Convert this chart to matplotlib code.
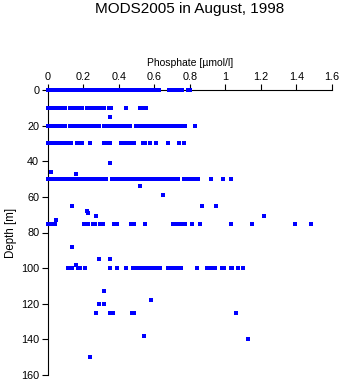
import numpy as np
import matplotlib
matplotlib.use('Agg')
import matplotlib.pyplot as plt

plt.rcParams['font.family'] = ['Liberation Sans', 'DejaVu Sans']

# Phosphate readings (umol/l) at each standard depth (m)
p0 = [0.00, 0.01, 0.02, 0.03, 0.04, 0.05, 0.06, 0.07, 0.08, 0.09, 0.10, 0.11, 0.12, 0.13,
      0.14, 0.15, 0.16, 0.17, 0.18, 0.19, 0.20, 0.21, 0.22, 0.23, 0.24, 0.25, 0.26, 0.27,
      0.28, 0.29, 0.30, 0.31, 0.32, 0.33, 0.34, 0.35, 0.36, 0.37, 0.38, 0.39, 0.40,
      0.415, 0.43, 0.445, 0.46, 0.47, 0.48, 0.49, 0.50, 0.51, 0.52, 0.53, 0.54,
      0.555, 0.57, 0.585, 0.595, 0.61, 0.625, 0.685, 0.70, 0.71, 0.725, 0.74, 0.755,
      0.79, 0.80]
p10 = [0.00, 0.01, 0.02, 0.03, 0.04, 0.05, 0.06, 0.075, 0.085, 0.10, 0.125, 0.135, 0.15,
       0.16, 0.185, 0.195, 0.22, 0.235, 0.245, 0.255, 0.265, 0.285, 0.30, 0.315, 0.345,
       0.355, 0.44, 0.52, 0.535, 0.555]
p15 = [0.35]
p20 = [0.00, 0.01, 0.02, 0.03, 0.04, 0.05, 0.06, 0.07, 0.08, 0.09, 0.10, 0.125, 0.135,
       0.145, 0.155, 0.165, 0.175, 0.185, 0.195, 0.205, 0.215, 0.225, 0.235, 0.245, 0.255,
       0.265, 0.275, 0.29, 0.315, 0.325, 0.335, 0.345, 0.355, 0.365, 0.375, 0.385, 0.395,
       0.405, 0.415, 0.425, 0.44, 0.455, 0.465, 0.495, 0.51, 0.525, 0.545, 0.56, 0.575,
       0.585, 0.60, 0.615, 0.635, 0.655, 0.675, 0.69, 0.70, 0.71, 0.735, 0.75, 0.765,
       0.775, 0.83]
p30 = [0.005, 0.015, 0.025, 0.035, 0.05, 0.07, 0.08, 0.105, 0.115, 0.13, 0.165, 0.185,
       0.195, 0.24, 0.315, 0.325, 0.345, 0.35, 0.415, 0.425, 0.44, 0.45, 0.465, 0.475,
       0.485, 0.535, 0.55, 0.575, 0.61, 0.68, 0.74, 0.77]
p50 = [0.00, 0.01, 0.02, 0.03, 0.04, 0.05, 0.06, 0.07, 0.08, 0.09, 0.10, 0.11, 0.12,
       0.13, 0.14, 0.15, 0.16, 0.17, 0.18, 0.19, 0.20, 0.21, 0.22, 0.23, 0.24, 0.25, 0.26,
       0.27, 0.285, 0.30, 0.315, 0.33, 0.365, 0.38, 0.395, 0.41, 0.42, 0.43, 0.44, 0.45,
       0.46, 0.47, 0.48, 0.49, 0.50, 0.51, 0.52, 0.53, 0.54, 0.55, 0.56, 0.57, 0.58, 0.59,
       0.60, 0.61, 0.62, 0.63, 0.64, 0.65, 0.66, 0.67, 0.68, 0.69, 0.705, 0.72, 0.735,
       0.765, 0.78, 0.795, 0.81, 0.82, 0.83, 0.845, 0.92, 0.985, 1.03]
p75 = [0.005, 0.02, 0.03, 0.04, 0.205, 0.215, 0.23, 0.255, 0.265, 0.295, 0.31, 0.375,
       0.39, 0.47, 0.485, 0.55, 0.705, 0.715, 0.74, 0.75, 0.765, 0.775, 0.81, 0.86, 1.03,
       1.15, 1.39, 1.48]
p100 = [0.115, 0.125, 0.135, 0.17, 0.185, 0.21, 0.35, 0.39, 0.44, 0.48, 0.49, 0.50,
        0.515, 0.535, 0.545, 0.555, 0.57, 0.59, 0.60, 0.615, 0.625, 0.635, 0.675, 0.685,
        0.695, 0.71, 0.72, 0.735, 0.75, 0.84, 0.895, 0.905, 0.915, 0.93, 0.94, 0.98, 0.99,
        1.03, 1.04, 1.07, 1.10]
p125 = [0.27, 0.35, 0.37, 0.475, 0.485, 1.06]

# scattered single readings at odd depths
odd_depth = [41, 46, 47, 54, 59, 65, 65, 65, 68, 69, 71, 71, 73, 88, 95, 95, 98,
             113, 118, 120, 120, 138, 140, 150]
odd_phos = [0.35, 0.02, 0.16, 0.52, 0.65, 0.14, 0.87, 0.95, 0.22, 0.23, 0.27, 1.22, 0.05,
            0.14, 0.29, 0.35, 0.16, 0.32, 0.58, 0.29, 0.32, 0.54, 1.13, 0.24]

levels = [(0, p0), (10, p10), (15, p15), (20, p20), (30, p30), (50, p50),
          (75, p75), (100, p100), (125, p125)]

phos = []
depth = []
for d, vals in levels:
    phos += vals
    depth += [d] * len(vals)
phos = np.array(phos + odd_phos)
depth = np.array(depth + odd_depth)

fig = plt.figure(figsize=(3.43, 3.84), dpi=100)
ax = fig.add_axes([47.5 / 343, 1 - 375 / 384, (332 - 47.5) / 343, (375 - 90) / 384])

ax.plot(phos, depth, 's', color='#0000ff', ms=2.2, mew=0, clip_on=False, zorder=5)

ax.set_xlim(0, 1.6)
ax.set_ylim(160, 0)
ax.set_xticks([0, 0.2, 0.4, 0.6, 0.8, 1, 1.2, 1.4, 1.6])
ax.set_xticklabels(['0', '0.2', '0.4', '0.6', '0.8', '1', '1.2', '1.4', '1.6'])
ax.set_yticks(range(0, 161, 20))
ax.xaxis.tick_top()
ax.xaxis.set_label_position('top')
ax.tick_params(direction='out', length=4, width=0.8, labelsize=7.8, pad=2)
ax.spines['right'].set_visible(False)
ax.spines['bottom'].set_visible(False)
ax.spines['top'].set_linewidth(0.8)
ax.spines['left'].set_linewidth(0.8)

ax.set_xlabel('Phosphate [\u00b5mol/l]', fontsize=7.5, labelpad=4)
ax.set_ylabel('Depth [m]', fontsize=8.3, labelpad=3)
fig.text(0.554, 1 - 9 / 384, 'MODS2005 in August, 1998', ha='center', va='center',
         fontsize=11)

fig.savefig('out.png', dpi=100)
